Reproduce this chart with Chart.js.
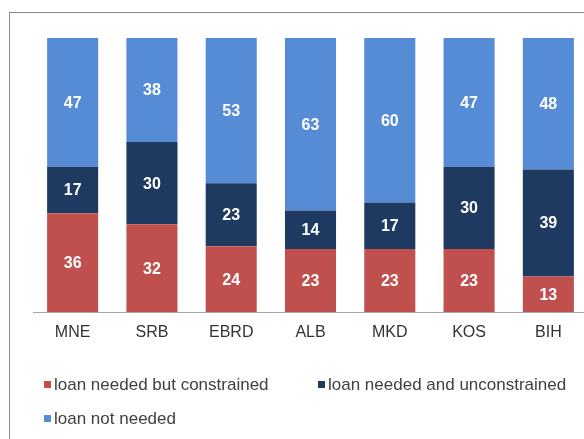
<!DOCTYPE html>
<html>
<head>
<meta charset="utf-8">
<script src="https://cdn.jsdelivr.net/npm/chart.js@4/dist/chart.umd.min.js"></script>
<style>
  body { margin: 0; overflow: hidden; background: #fff; }
  #wrap { position: relative; width: 600px; height: 439px; }
  #frame { position: absolute; left: 9px; top: 12px; width: 700px; height: 500px; border: 1px solid #8c8c8c; }
  #legend { position: absolute; left: 0; top: 0; font-family: "Liberation Sans", Arial, sans-serif; font-size: 17px; color: #404040; }
  .item { position: absolute; white-space: nowrap; line-height: 18px; }
  .box { display: inline-block; width: 7px; height: 7px; margin-right: 3px; vertical-align: 2px; }
</style>
</head>
<body>
<div id="wrap">
  <div id="frame"></div>
  <canvas id="chart" width="600" height="439"></canvas>
  <div id="legend"></div>
</div>
<script>
const countries = ['MNE', 'SRB', 'EBRD', 'ALB', 'MKD', 'KOS', 'BIH']
const constrained = [36, 32, 24, 23, 23, 23, 13]
const unconstrained = [17, 30, 23, 14, 17, 30, 39]
const notNeeded = [47, 38, 53, 63, 60, 47, 48]
const seriesNames = ['loan needed but constrained', 'loan needed and unconstrained', 'loan not needed']
const seriesColors = ['#C0504D', '#1F3A60', '#568CD6']

// legend placement (left, top of each item)
const legendPos = [[44, 376], [318, 376], [44, 410]]

const legend = document.getElementById('legend')
seriesNames.forEach((name, i) => {
  const d = document.createElement('div')
  d.className = 'item'
  d.style.left = legendPos[i][0] + 'px'
  d.style.top = legendPos[i][1] + 'px'
  d.innerHTML = '<span class="box" style="background:' + seriesColors[i] + '"></span>' + name
  legend.appendChild(d)
})

const valueLabels = {
  id: 'valueLabels',
  afterDatasetsDraw(chart) {
    const ctx = chart.ctx
    ctx.save()
    ctx.fillStyle = '#ffffff'
    ctx.font = 'bold 16px "Liberation Sans", Arial, sans-serif'
    ctx.textAlign = 'center'
    ctx.textBaseline = 'middle'
    chart.data.datasets.forEach((ds, i) => {
      chart.getDatasetMeta(i).data.forEach((bar, j) => {
        ctx.fillText(ds.data[j], bar.x, (bar.y + bar.base) / 2 + 1)
      })
    })
    ctx.restore()
  }
}

const data = {
  labels: countries,
  datasets: [
    { label: seriesNames[0], data: constrained, backgroundColor: seriesColors[0] },
    { label: seriesNames[1], data: unconstrained, backgroundColor: seriesColors[1] },
    { label: seriesNames[2], data: notNeeded, backgroundColor: seriesColors[2] },
  ],
}

new Chart(document.getElementById('chart'), {
  type: 'bar',
  data: data,
  options: {
    responsive: false,
    animation: false,
    layout: { padding: { left: 33, right: 12, top: 38, bottom: 0 } },
    datasets: { bar: { categoryPercentage: 1, barPercentage: 0.644 } },
    plugins: { legend: { display: false }, tooltip: { enabled: false } },
    scales: {
      x: {
        stacked: true,
        grid: { display: false },
        border: { display: true, color: '#a6a6a6', width: 1 },
        ticks: { color: '#333333', padding: 3, font: { family: '"Liberation Sans", Arial, sans-serif', size: 16 } },
        afterFit(scale) { scale.height = 127 },
      },
      y: { stacked: true, display: false, min: 0, max: 100 },
    },
  },
  plugins: [valueLabels],
})
</script>
</body>
</html>
